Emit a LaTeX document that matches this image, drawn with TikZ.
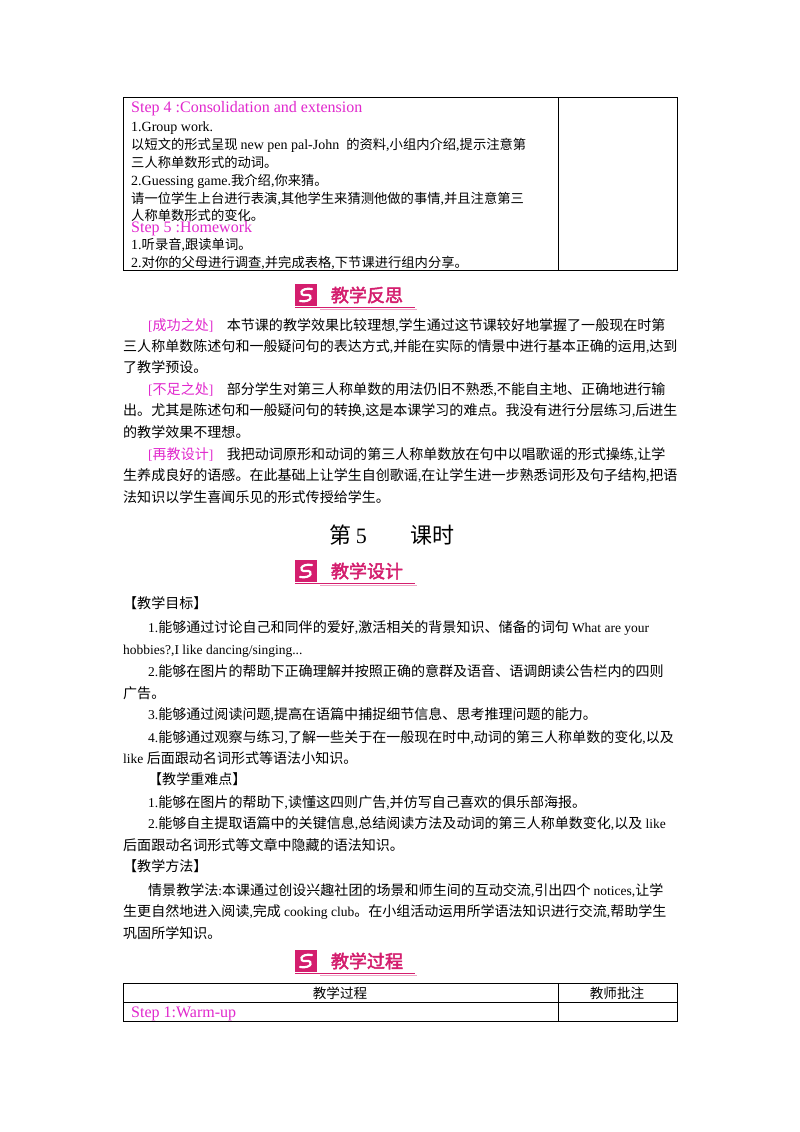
\documentclass[tikz,border=0pt]{standalone}
\usepackage{fontspec}
\setmainfont{Liberation Serif}
\newfontfamily\cjk{Noto Sans CJK SC}
\newfontfamily\cjkP[Scale=1.04]{Noto Sans CJK SC}
\newfontfamily\cjkT[Scale=0.95]{Noto Sans CJK SC}
\newfontfamily\cjkb[FakeBold=2.5]{Noto Sans CJK SC}
\def\cjksw{\cjk}
\newcount\cc
\cc="4E00 \loop \XeTeXcharclass\cc=1 \advance\cc by 1 \ifnum\cc<"A000 \repeat
\cc="3000 \loop \XeTeXcharclass\cc=1 \advance\cc by 1 \ifnum\cc<"3040 \repeat
\cc="FF00 \loop \XeTeXcharclass\cc=1 \advance\cc by 1 \ifnum\cc<"FFF0 \repeat
\XeTeXinterchartokenstate=1
\XeTeXinterchartoks 0 1 = {\cjksw}
\XeTeXinterchartoks 4095 1 = {\cjksw}
\XeTeXinterchartoks 1 0 = {\rmfamily}
\XeTeXinterchartoks 4095 0 = {\rmfamily}
\definecolor{stp}{RGB}{225,40,205}
\definecolor{bnr}{RGB}{212,30,110}
\tikzset{t/.style={anchor=base west,inner sep=0,font=\fontsize{13.5pt}{16pt}\selectfont\let\cjksw\cjkP},
 tt/.style={anchor=base west,inner sep=0,font=\fontsize{14pt}{18pt}\selectfont\let\cjksw\cjkT},
 stepl/.style={anchor=base west,inner sep=0,text=stp,font=\fontsize{16pt}{18pt}\selectfont},
 cell/.style={draw,line width=1pt}}
\newcommand\bann[4]{% name, cx, cy, text
 \fill[bnr] (#2-60,#3-11) rectangle (#2-38,#3+11);
 \draw[white,line width=2.2pt,line cap=round] (#2-43,#3-6) .. controls (#2-55,#3-8) and (#2-57,#3+1) .. (#2-49,#3) .. controls (#2-41,#3-1) and (#2-43,#3+8) .. (#2-55,#3+6);
 \draw[bnr,line width=1pt] (#2-60,#3+12) -- (#2+60,#3+12);
 \draw[bnr!40,line width=1pt] (#2-35,#3+14) -- (#2+62,#3+14);
 \node[inner sep=0,text=bnr,font=\fontsize{18pt}{20pt}\selectfont\def\cjksw{\cjkb}] (#1) at (#2+12,#3) {#4};}
\begin{document}
\begin{tikzpicture}[x=1pt,y=-1pt]
\fill[white] (0,0) rectangle (800,1132);
% table 1
\draw[cell] (123,97) rectangle (677,270);
\draw[cell] (558,97) -- (558,270);
\node[stepl] (s4) at (131,112) {Step 4 :Consolidation and extension};
\node[tt] (a1) at (131,131) {1.Group work.};
\node[tt] (a2) at (131,149) {以短文的形式呈现 new pen pal-John \ 的资料,小组内介绍,提示注意第};
\node[tt] (a3) at (131,167) {三人称单数形式的动词。};
\node[tt] (a4) at (131,185) {2.Guessing game.我介绍,你来猜。};
\node[tt] (a5) at (131,203) {请一位学生上台进行表演,其他学生来猜测他做的事情,并且注意第三};
\node[tt] (a6) at (131,220) {人称单数形式的变化。};
\node[stepl] (s5) at (131,232) {Step 5 :Homework};
\node[tt] (a7) at (131,249) {1.听录音,跟读单词。};
\node[tt] (a8) at (131,267) {2.对你的父母进行调查,并完成表格,下节课进行组内分享。};
\bann{b1}{355}{295}{教学反思}
\node[t] (p1) at (148,330) {\textcolor{stp}{[成功之处]}\quad 本节课的教学效果比较理想,学生通过这节课较好地掌握了一般现在时第};
\node[t] (p2) at (123,351) {三人称单数陈述句和一般疑问句的表达方式,并能在实际的情景中进行基本正确的运用,达到};
\node[t] (p3) at (123,372) {了教学预设。};
\node[t] (p4) at (148,394) {\textcolor{stp}{[不足之处]}\quad 部分学生对第三人称单数的用法仍旧不熟悉,不能自主地、正确地进行输};
\node[t] (p5) at (123,415) {出。尤其是陈述句和一般疑问句的转换,这是本课学习的难点。我没有进行分层练习,后进生};
\node[t] (p6) at (123,437) {的教学效果不理想。};
\node[t] (p7) at (148,459) {\textcolor{stp}{[再教设计]}\quad 我把动词原形和动词的第三人称单数放在句中以唱歌谣的形式操练,让学};
\node[t] (p8) at (123,480) {生养成良好的语感。在此基础上让学生自创歌谣,在让学生进一步熟悉词形及句子结构,把语};
\node[t] (p9) at (123,502) {法知识以学生喜闻乐见的形式传授给学生。};
\node[inner sep=0,font=\fontsize{22pt}{24pt}\selectfont] (ti) at (392,535) {第 5\qquad 课时};
\bann{b2}{355}{571}{教学设计}
\node[t] (h1) at (123,608) {【教学目标】};
\node[t] (q1) at (148,632) {1.能够通过讨论自己和同伴的爱好,激活相关的背景知识、储备的词句 What are your};
\node[t] (q2) at (123,654) {hobbies?,I like dancing/singing...};
\node[t] (q3) at (148,676) {2.能够在图片的帮助下正确理解并按照正确的意群及语音、语调朗读公告栏内的四则};
\node[t] (q4) at (123,698) {广告。};
\node[t] (q5) at (148,719) {3.能够通过阅读问题,提高在语篇中捕捉细节信息、思考推理问题的能力。};
\node[t] (q6) at (148,742) {4.能够通过观察与练习,了解一些关于在一般现在时中,动词的第三人称单数的变化,以及};
\node[t] (q7) at (123,763) {like 后面跟动名词形式等语法小知识。};
\node[t] (h2) at (148,784) {【教学重难点】};
\node[t] (r1) at (148,807) {1.能够在图片的帮助下,读懂这四则广告,并仿写自己喜欢的俱乐部海报。};
\node[t] (r2) at (148,828) {2.能够自主提取语篇中的关键信息,总结阅读方法及动词的第三人称单数变化,以及 like};
\node[t] (r3) at (123,850) {后面跟动名词形式等文章中隐藏的语法知识。};
\node[t] (h3) at (123,871) {【教学方法】};
\node[t] (m1) at (148,895) {情景教学法:本课通过创设兴趣社团的场景和师生间的互动交流,引出四个 notices,让学};
\node[t] (m2) at (123,916) {生更自然地进入阅读,完成 cooking club。在小组活动运用所学语法知识进行交流,帮助学生};
\node[t] (m3) at (123,938) {巩固所学知识。};
\bann{b3}{355}{961}{教学过程}
% table 2
\draw[cell] (123,983) rectangle (677,1021);
\draw[cell] (123,1002) -- (677,1002);
\draw[cell] (558,983) -- (558,1021);
\node[inner sep=0,font=\fontsize{13.6pt}{16pt}\selectfont] (c1) at (340,993) {教学过程};
\node[inner sep=0,font=\fontsize{13.6pt}{16pt}\selectfont] (c2) at (617,993) {教师批注};
\node[stepl] (s1) at (131,1017) {Step 1:Warm-up};
\end{tikzpicture}
\end{document}
